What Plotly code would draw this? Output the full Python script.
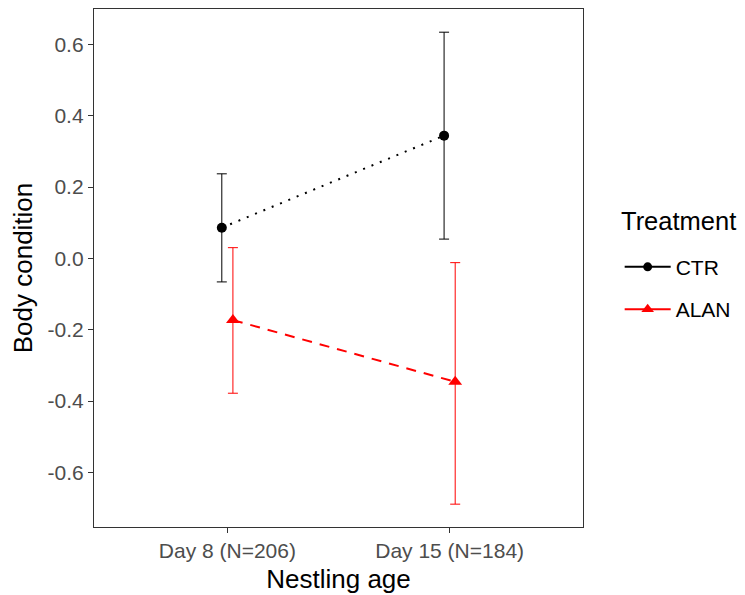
import plotly.graph_objects as go

# ---- data ----
categories = ["Day 8 (N=206)", "Day 15 (N=184)"]
groups = ["CTR", "ALAN"]
ctr_mean = [0.086, 0.344]
ctr_lower = [-0.066, 0.054]
ctr_upper = [0.237, 0.634]
alan_mean = [-0.173, -0.346]
alan_lower = [-0.378, -0.689]
alan_upper = [0.030, -0.012]
y_ticks = [0.6, 0.4, 0.2, 0.0, -0.2, -0.4, -0.6]
y_tick_labels = ["0.6", "0.4", "0.2", "0.0", "-0.2", "-0.4", "-0.6"]

dodge = 0.025
base_x = [i + 1 for i in range(len(categories))]

series = [
    dict(name="CTR", mean=ctr_mean, lo=ctr_lower, hi=ctr_upper, off=-dodge,
         color="black", dash="2px,7px", symbol="circle", msize=10),
    dict(name="ALAN", mean=alan_mean, lo=alan_lower, hi=alan_upper, off=dodge,
         color="#FF0000", dash="10px,8px", symbol="triangle-up", msize=12),
]

fig = go.Figure()
for s in series:
    xs = [b + s["off"] for b in base_x]
    fig.add_trace(go.Scatter(
        x=xs, y=s["mean"], name=s["name"], mode="lines+markers",
        showlegend=False,
        line=dict(color=s["color"], width=2, dash=s["dash"]),
        marker=dict(color=s["color"], symbol=s["symbol"], size=s["msize"]),
        error_y=dict(type="data", symmetric=False,
                     array=[h - m for h, m in zip(s["hi"], s["mean"])],
                     arrayminus=[m - l for m, l in zip(s["mean"], s["lo"])],
                     color=s["color"], thickness=1, width=5),
    ))

# legend entries (solid key lines, as in the reference)
for s in series:
    fig.add_trace(go.Scatter(
        x=[None], y=[None], name=s["name"], mode="lines+markers",
        legendgroup=s["name"],
        line=dict(color=s["color"], width=2),
        marker=dict(color=s["color"], symbol=s["symbol"], size=s["msize"] - 1),
    ))

axis_common = dict(showline=True, mirror=True, linecolor="#333333", linewidth=1.3,
                   ticks="outside", ticklen=5, tickwidth=1.3, tickcolor="#333333",
                   showgrid=False, zeroline=False,
                   tickfont=dict(size=21, color="#4D4D4D"))

fig.update_layout(
    width=737, height=587,
    margin=dict(l=86, r=162, t=1, b=68),
    paper_bgcolor="white", plot_bgcolor="white",
    font=dict(family="Liberation Sans, Arial, sans-serif", color="black"),
    xaxis=dict(range=[0.4, 2.6], tickmode="array", tickvals=base_x, ticktext=categories,
               title=dict(text="Nestling age", font=dict(size=26), standoff=8),
               **axis_common),
    yaxis=dict(range=[-0.753, 0.699], tickmode="array", tickvals=y_ticks,
               ticktext=y_tick_labels,
               title=dict(text="Body condition", font=dict(size=26), standoff=12),
               **axis_common),
    legend=dict(x=1.075, y=0.461, xanchor="left", yanchor="middle",
                font=dict(size=21), tracegroupgap=12, bgcolor="rgba(0,0,0,0)",
                itemwidth=46),
    annotations=[dict(text="Treatment", xref="paper", yref="paper",
                      x=1.073, y=0.591, xanchor="left", yanchor="middle",
                      showarrow=False, font=dict(size=25.5, color="black"))],
)

fig.write_html("out.html")
